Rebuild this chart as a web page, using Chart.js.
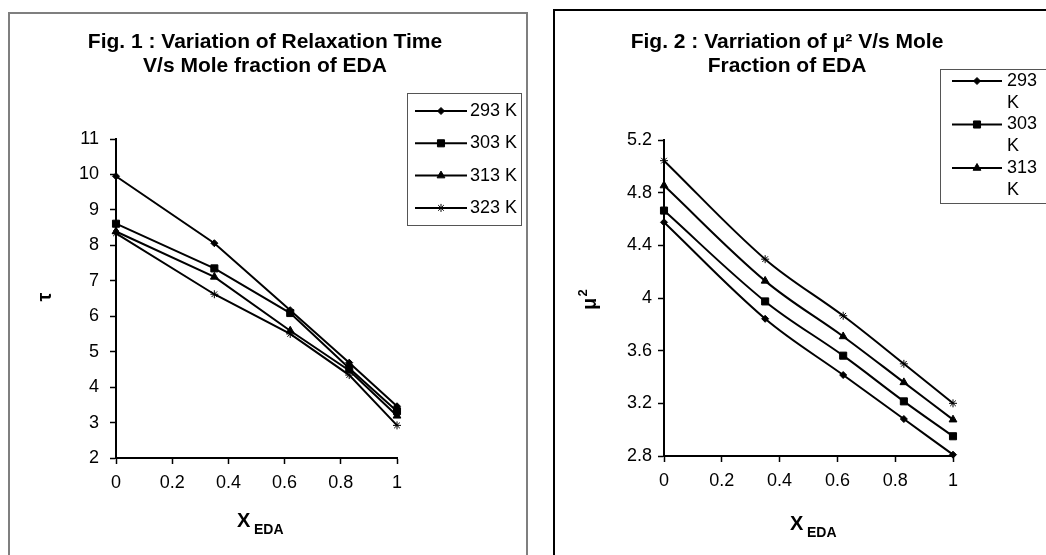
<!DOCTYPE html>
<html>
<head>
<meta charset="utf-8">
<script src="https://cdn.jsdelivr.net/npm/chart.js@4.4.0/dist/chart.umd.min.js"></script>
<style>
  html, body { margin: 0; padding: 0; background: #fff; width: 1046px; height: 555px; overflow: hidden; }
  .frame { position: absolute; box-sizing: content-box; }
  #frame1 { left: 8px; top: 12px; width: 516px; height: 560px; border: 2px solid #7f7f7f; }
  #frame2 { left: 553px; top: 9px; width: 600px; height: 560px; border: 2px solid #000; }
  .box { position: absolute; }
  #box1 { left: 10px; top: 14px; width: 514px; height: 541px; }
  #box2 { left: 555px; top: 11px; width: 491px; height: 544px; }
</style>
</head>
<body>
<div class="frame" id="frame1"></div>
<div class="frame" id="frame2"></div>
<div class="box" id="box1"><canvas id="canvas_tau"></canvas></div>
<div class="box" id="box2"><canvas id="canvas_mu"></canvas></div>
<script>
// mole fraction of EDA
const xEda = [0, 0.35, 0.62, 0.83, 1];
const temps = ['293 K', '303 K', '313 K', '323 K'];

// Fig. 1 : relaxation time
const tau293 = [9.95, 8.06, 6.17, 4.69, 3.46];
const tau303 = [8.61, 7.35, 6.09, 4.53, 3.32];
const tau313 = [8.39, 7.11, 5.59, 4.47, 3.19];
const tau323 = [8.34, 6.62, 5.50, 4.34, 2.92];

// Fig. 2 : mu squared
const mu293 = [4.575, 3.842, 3.415, 3.081, 2.81];
const mu303 = [4.664, 3.974, 3.562, 3.215, 2.95];
const mu313 = [4.854, 4.13, 3.708, 3.359, 3.076];
const mu323 = [5.043, 4.295, 3.865, 3.50, 3.20];

const FONT = "'Liberation Sans', Arial, sans-serif";
Chart.defaults.font.family = FONT;
Chart.defaults.color = '#000';

const markers = [
    { pointStyle: 'rectRot', radius: 3.5 },
    { pointStyle: 'rect', radius: 5 },
    { pointStyle: 'triangle', radius: 4.5 },
    { pointStyle: 'star', radius: 4 },
];

// excel "general" number format: 1 instead of 1.0
const formatoGeral = v => String(Math.round(v * 100) / 100);

function montarDatasets(series, tension){
    return series.map((valores, i) => ({
        label: temps[i],
        data: valores.map((v, j) => ({ x: xEda[j], y: v })),
        borderColor: '#000',
        borderWidth: 2,
        backgroundColor: '#000',
        pointStyle: markers[i].pointStyle,
        pointRadius: markers[i].radius,
        pointBorderWidth: 1,
        pointBackgroundColor: '#000',
        pointBorderColor: '#000',
        tension: tension,
        clip: false,
    }));
}

function montarEixos(yMin, yMax, yStep, yPad){
    return {
        x: {
            type: 'linear', min: 0, max: 1,
            ticks: { stepSize: 0.2, padding: 8, font: { size: 18 }, callback: formatoGeral },
            grid: { drawOnChartArea: false, tickLength: 6, tickWidth: 1.5, tickColor: '#000' },
            border: { color: '#000', width: 2 },
            afterFit(s){ s.height = 40; },
        },
        y: {
            min: yMin, max: yMax,
            ticks: { stepSize: yStep, padding: yPad, font: { size: 18 }, callback: formatoGeral },
            grid: { drawOnChartArea: false, tickLength: 6, tickWidth: 1.5, tickColor: '#000' },
            border: { color: '#000', width: 2 },
            afterFit(s){ s.width = 50; },
        },
    };
}

// titles, axis titles and the excel style legend
const decoracao = {
    id: 'decoracao',
    afterDraw(chart, args, o){
        const ctx = chart.ctx;
        ctx.save();
        ctx.fillStyle = '#000';
        ctx.strokeStyle = '#000';
        ctx.textBaseline = 'middle';

        ctx.font = 'bold 21px ' + FONT;
        ctx.textAlign = 'center';
        o.title.forEach((linha, i) => ctx.fillText(linha, o.titleX, o.titleY + i * 24));

        ctx.textAlign = 'left';
        ctx.font = 'bold 20px ' + FONT;
        ctx.fillText('X', o.xTitle[0], o.xTitle[1]);
        ctx.font = 'bold 14px ' + FONT;
        ctx.fillText('EDA', o.xTitle[0] + 17, o.xTitle[1] + 9);

        // legend
        const lg = o.legend;
        ctx.lineWidth = 1;
        ctx.strokeStyle = '#555';
        ctx.strokeRect(lg.x + 0.5, lg.y + 0.5, lg.w, lg.h);
        ctx.font = '18px ' + FONT;
        let y = lg.first;
        chart.data.datasets.forEach((ds, i) => {
            const linhas = lg.wrap ? ds.label.split(' ') : [ds.label];
            if (y + (linhas.length - 1) * lg.lineGap > lg.y + lg.h - 8) return;
            ctx.strokeStyle = '#000';
            ctx.lineWidth = 2;
            ctx.beginPath();
            ctx.moveTo(lg.x0, y);
            ctx.lineTo(lg.x1, y);
            ctx.stroke();
            ctx.lineWidth = 1;
            Chart.helpers.drawPoint(ctx, { pointStyle: ds.pointStyle, radius: ds.pointRadius, borderWidth: 1, rotation: 0 }, (lg.x0 + lg.x1) / 2, y);
            linhas.forEach((t, k) => ctx.fillText(t, lg.textX, y + k * lg.lineGap));
            y += lg.step;
        });

        // y title, rotated
        ctx.translate(o.yTitle[0], o.yTitle[1]);
        ctx.rotate(-Math.PI / 2);
        ctx.textAlign = 'center';
        ctx.font = 'bold 20px ' + FONT;
        if (o.yText === 'tau') {
            ctx.fillText('τ', 0, 0);
        } else {
            ctx.fillText('μ', -4, 0);
            ctx.font = 'bold 13px ' + FONT;
            ctx.fillText('2', 7, -7);
        }
        ctx.restore();
    }
};

new Chart(document.getElementById('canvas_tau'), {
    type: 'line',
    data: { datasets: montarDatasets([tau293, tau303, tau313, tau323], 0) },
    options: {
        responsive: true,
        maintainAspectRatio: false,
        animation: false,
        layout: { padding: { left: 56, right: 127, top: 125, bottom: 57 } },
        scales: montarEixos(2, 11, 1, 11),
        plugins: {
            legend: { display: false },
            tooltip: { enabled: false },
            decoracao: {
                title: ['Fig. 1 : Variation of Relaxation Time', 'V/s Mole fraction of EDA'],
                titleX: 255, titleY: 28,
                xTitle: [227, 507],
                yTitle: [35, 283], yText: 'tau',
                legend: { x: 397, y: 79, w: 114, h: 132, first: 97, step: 32.3, lineGap: 22, x0: 405, x1: 457, textX: 460, wrap: false },
            },
        },
    },
    plugins: [decoracao],
});

new Chart(document.getElementById('canvas_mu'), {
    type: 'line',
    data: { datasets: montarDatasets([mu293, mu303, mu313, mu323], 0.35) },
    options: {
        responsive: true,
        maintainAspectRatio: false,
        animation: false,
        layout: { padding: { left: 59, right: 93, top: 129, bottom: 59 } },
        scales: montarEixos(2.8, 5.2, 0.4, 6),
        plugins: {
            legend: { display: false },
            tooltip: { enabled: false },
            decoracao: {
                title: ['Fig. 2 : Varriation of μ² V/s Mole', 'Fraction of EDA'],
                titleX: 232, titleY: 31,
                xTitle: [235, 513],
                yTitle: [35, 289], yText: 'mu',
                legend: { x: 385, y: 58, w: 200, h: 134, first: 70, step: 43.5, lineGap: 22, x0: 397, x1: 447, textX: 452, wrap: true },
            },
        },
    },
    plugins: [decoracao],
});
</script>
</body>
</html>
